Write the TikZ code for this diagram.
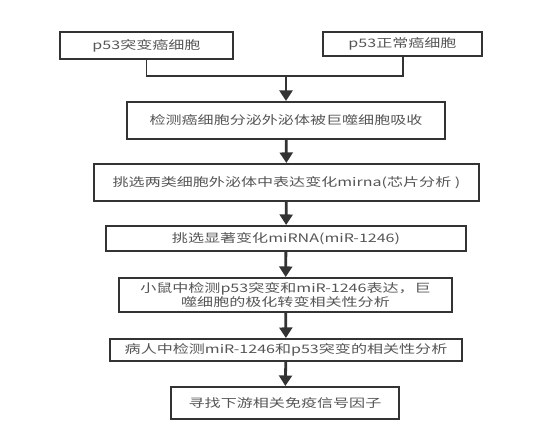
\documentclass[tikz,border=0pt]{standalone}
\usepackage{fontspec}
\usepackage{xcolor}
\usepackage{tikz}
\usetikzlibrary{arrows.meta}
\newfontfamily\cjk[FakeStretch=1.37]{Noto Sans CJK SC}
\definecolor{frame}{HTML}{333333}
\definecolor{words}{HTML}{555555}

\begin{document}
\begin{tikzpicture}[x=0.03cm,y=-0.03cm,line width=1.7pt,
  box/.style={draw=frame,inner sep=0pt,align=center,text=words,
    font=\cjk\fontsize{10}{10.5}\selectfont},
  flow/.style={draw=frame,line width=2.4pt,-{Triangle[width=11pt,length=9pt]}}]
  \useasboundingbox (0,0) rectangle (534,442);
  % two cell types
  \node[box,minimum width=5.19cm,minimum height=0.81cm] (mut) at (146.5,45.5) {p53突变癌细胞};
  \node[box,minimum width=4.77cm,minimum height=0.72cm] (norm) at (402.5,44) {p53正常癌细胞};
  \coordinate (join) at (286,76);
  % steps
  \node[box,minimum width=9.54cm,minimum height=1.11cm] (uptake) at (286,120.5) {检测癌细胞分泌外泌体被巨噬细胞吸收};
  \node[box,minimum width=11.55cm,minimum height=1.11cm] (chip) at (286.5,182.5) {挑选两类细胞外泌体中表达变化mirna(芯片分析 )};
  \node[box,minimum width=10.8cm,minimum height=0.75cm] (pick) at (286,238.5) {挑选显著变化miRNA(miR-1246)};
  \node[box,minimum width=9.99cm,minimum height=1.02cm] (mouse) at (285.5,295) {小鼠中检测p53突变和miR-1246表达，巨\\噬细胞的极化转变相关性分析};
  \node[box,minimum width=10.56cm,minimum height=0.66cm] (patient) at (286,350) {病人中检测miR-1246和p53突变的相关性分析};
  \node[box,minimum width=6.84cm,minimum height=0.96cm] (signal) at (285,403) {寻找下游相关免疫信号因子};
  % connectors
  \draw[frame] (mut.south) -- (mut.south |- join) -- (norm.south |- join) -- (norm.south);
  \draw[flow] (join) -- (uptake);
  \draw[flow] (uptake) -- (chip);
  \draw[flow] (chip) -- (pick);
  \draw[flow] (pick) -- (mouse);
  \draw[flow] (mouse) -- (patient);
  \draw[flow] (patient) -- (signal);
\end{tikzpicture}
\end{document}
